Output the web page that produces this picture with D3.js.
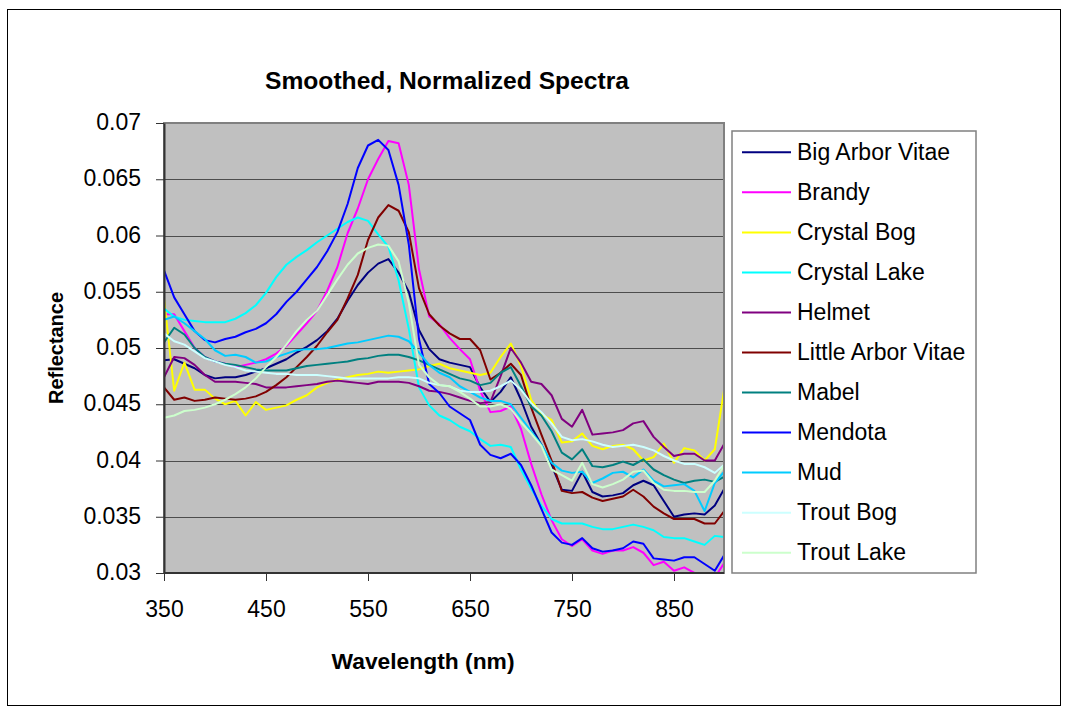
<!DOCTYPE html>
<html>
<head>
<meta charset="utf-8">
<script src="https://cdn.jsdelivr.net/npm/d3@7/dist/d3.min.js"></script>
<style>
  html, body { margin: 0; padding: 0; background: #fff; }
  svg { display: block; font-family: "Liberation Sans", Arial, sans-serif; }
</style>
</head>
<body>
<svg id="chart" width="1070" height="709"></svg>
<script>
// ---- Data ----
const wavelengths = d3.range(350, 901, 10);

const seriesNames = ["Big Arbor Vitae","Brandy","Crystal Bog","Crystal Lake","Helmet","Little Arbor Vitae","Mabel","Mendota","Mud","Trout Bog","Trout Lake"];
const seriesColors = ["#000080","#FF00FF","#FFFF00","#00FFFF","#800080","#800000","#008080","#0000FF","#00CCFF","#CCFFFF","#CCFFCC"];

const bigArborVitae = [0.0489,0.0490,0.0486,0.0482,0.0476,0.0473,0.0474,0.0474,0.0476,0.0479,0.0482,0.0486,0.0490,0.0496,0.0501,0.0507,0.0515,0.0526,0.0542,0.0556,0.0567,0.0575,0.0579,0.0567,0.0550,0.0516,0.0499,0.0490,0.0487,0.0485,0.0483,0.0465,0.0452,0.0461,0.0474,0.0454,0.0430,0.0414,0.0396,0.0374,0.0373,0.0390,0.0372,0.0368,0.0369,0.0371,0.0378,0.0382,0.0378,0.0364,0.0350,0.0352,0.0353,0.0352,0.0360,0.0376];
const brandy = [0.0530,0.0530,0.0515,0.0500,0.0492,0.0488,0.0486,0.0483,0.0485,0.0487,0.0490,0.0495,0.0502,0.0512,0.0522,0.0533,0.0551,0.0572,0.0602,0.0624,0.0650,0.0668,0.0684,0.0682,0.0645,0.0570,0.0528,0.0521,0.0509,0.0499,0.0490,0.0462,0.0443,0.0444,0.0448,0.0428,0.0397,0.0370,0.0347,0.0330,0.0324,0.0330,0.0320,0.0317,0.0320,0.0320,0.0323,0.0318,0.0307,0.0310,0.0302,0.0305,0.0300,0.0297,0.0296,0.0310];
const crystalBog = [0.0544,0.0462,0.0487,0.0463,0.0463,0.0455,0.0450,0.0453,0.0440,0.0452,0.0445,0.0447,0.0449,0.0454,0.0458,0.0465,0.0469,0.0472,0.0474,0.0476,0.0477,0.0479,0.0478,0.0479,0.0480,0.0481,0.0484,0.0486,0.0482,0.0480,0.0478,0.0476,0.0478,0.0492,0.0504,0.0484,0.0454,0.0441,0.0436,0.0416,0.0417,0.0424,0.0413,0.0410,0.0413,0.0414,0.0410,0.0400,0.0403,0.0415,0.0398,0.0411,0.0409,0.0400,0.0410,0.0468];
const crystalLake = [0.0535,0.0528,0.0525,0.0524,0.0523,0.0523,0.0523,0.0526,0.0531,0.0538,0.0549,0.0563,0.0574,0.0581,0.0587,0.0594,0.0600,0.0606,0.0612,0.0616,0.0613,0.0601,0.0590,0.0560,0.0517,0.0465,0.0449,0.0440,0.0436,0.0430,0.0426,0.0419,0.0413,0.0414,0.0412,0.0392,0.0375,0.0360,0.0348,0.0344,0.0344,0.0344,0.0341,0.0339,0.0339,0.0341,0.0343,0.0341,0.0338,0.0332,0.0331,0.0331,0.0328,0.0325,0.0333,0.0332];
const helmet = [0.0474,0.0492,0.0491,0.0485,0.0476,0.0470,0.0470,0.0470,0.0469,0.0468,0.0465,0.0465,0.0465,0.0466,0.0467,0.0468,0.0470,0.0471,0.0470,0.0469,0.0468,0.0470,0.0470,0.0470,0.0469,0.0466,0.0462,0.0461,0.0459,0.0456,0.0453,0.0451,0.0452,0.0475,0.0500,0.0487,0.0470,0.0468,0.0458,0.0437,0.0430,0.0445,0.0423,0.0424,0.0425,0.0427,0.0433,0.0435,0.0421,0.0412,0.0404,0.0406,0.0406,0.0400,0.0400,0.0416];
const littleArborVitae = [0.0465,0.0454,0.0456,0.0453,0.0454,0.0456,0.0455,0.0454,0.0455,0.0457,0.0461,0.0467,0.0474,0.0483,0.0492,0.0502,0.0514,0.0525,0.0544,0.0565,0.0596,0.0616,0.0627,0.0622,0.0603,0.0553,0.0530,0.0520,0.0513,0.0508,0.0508,0.0498,0.0472,0.0478,0.0486,0.0476,0.0447,0.0423,0.0400,0.0373,0.0371,0.0372,0.0367,0.0364,0.0366,0.0368,0.0374,0.0368,0.0359,0.0353,0.0348,0.0348,0.0348,0.0344,0.0344,0.0356];
const mabel = [0.0505,0.0518,0.0512,0.0500,0.0492,0.0488,0.0486,0.0485,0.0483,0.0481,0.0480,0.0480,0.0480,0.0482,0.0484,0.0485,0.0486,0.0487,0.0488,0.0490,0.0491,0.0493,0.0494,0.0494,0.0492,0.0489,0.0485,0.0481,0.0477,0.0473,0.0471,0.0467,0.0469,0.0478,0.0483,0.0466,0.0448,0.0440,0.0426,0.0407,0.0401,0.0410,0.0395,0.0394,0.0396,0.0399,0.0396,0.0401,0.0392,0.0387,0.0383,0.0380,0.0382,0.0383,0.0381,0.0386];
const mendota = [0.0569,0.0545,0.0530,0.0515,0.0507,0.0505,0.0508,0.0510,0.0514,0.0517,0.0522,0.0530,0.0541,0.0550,0.0561,0.0572,0.0586,0.0603,0.0628,0.0660,0.0680,0.0685,0.0676,0.0645,0.0592,0.0508,0.0468,0.0460,0.0448,0.0442,0.0436,0.0414,0.0405,0.0402,0.0406,0.0396,0.0378,0.0357,0.0336,0.0327,0.0325,0.0331,0.0322,0.0319,0.0320,0.0322,0.0328,0.0326,0.0313,0.0312,0.0311,0.0314,0.0314,0.0308,0.0302,0.0317];
const mud = [0.0525,0.0528,0.0522,0.0515,0.0508,0.0498,0.0493,0.0494,0.0492,0.0487,0.0488,0.0492,0.0495,0.0498,0.0499,0.0499,0.0500,0.0502,0.0504,0.0505,0.0507,0.0509,0.0511,0.0510,0.0506,0.0496,0.0485,0.0478,0.0474,0.0466,0.0461,0.0456,0.0453,0.0453,0.0450,0.0438,0.0426,0.0414,0.0398,0.0391,0.0389,0.0390,0.0380,0.0384,0.0389,0.0390,0.0385,0.0392,0.0382,0.0377,0.0378,0.0379,0.0373,0.0355,0.0380,0.0391];
const troutBog = [0.0513,0.0506,0.0503,0.0497,0.0491,0.0488,0.0485,0.0483,0.0480,0.0479,0.0478,0.0477,0.0477,0.0476,0.0476,0.0476,0.0475,0.0474,0.0473,0.0473,0.0473,0.0473,0.0473,0.0474,0.0474,0.0473,0.0469,0.0467,0.0466,0.0462,0.0461,0.0461,0.0462,0.0466,0.0471,0.0463,0.0451,0.0443,0.0433,0.0421,0.0418,0.0419,0.0417,0.0414,0.0412,0.0413,0.0414,0.0412,0.0409,0.0404,0.0400,0.0397,0.0397,0.0394,0.0389,0.0397];
const troutLake = [0.0438,0.0440,0.0444,0.0445,0.0447,0.0450,0.0454,0.0459,0.0465,0.0473,0.0483,0.0492,0.0503,0.0515,0.0525,0.0533,0.0547,0.0561,0.0574,0.0584,0.0589,0.0592,0.0591,0.0577,0.0540,0.0485,0.0474,0.0467,0.0466,0.0461,0.0455,0.0448,0.0448,0.0450,0.0446,0.0434,0.0424,0.0413,0.0392,0.0387,0.0382,0.0398,0.0379,0.0376,0.0379,0.0383,0.0390,0.0391,0.0380,0.0374,0.0373,0.0373,0.0372,0.0372,0.0382,0.0397];

const seriesValues = [bigArborVitae, brandy, crystalBog, crystalLake, helmet, littleArborVitae, mabel, mendota, mud, troutBog, troutLake];

const yTicks = [0.03,0.035,0.04,0.045,0.05,0.055,0.06,0.065,0.07];
const yTickLabels = ["0.03","0.035","0.04","0.045","0.05","0.055","0.06","0.065","0.07"];
const xTicks = [350,450,550,650,750,850];
const xTickLabels = ["350","450","550","650","750","850"];

const titleText = "Smoothed, Normalized Spectra";
const xTitle = "Wavelength (nm)";
const yTitle = "Reflectance";

// ---- Layout ----
const svg = d3.select("#chart");
const plot = { left: 164, top: 123, right: 724, bottom: 573 };

const x = d3.scaleLinear().domain([350, 900]).range([plot.left, plot.left + 5.5 * 102]);
const y = d3.scaleLinear().domain([0.03, 0.07]).range([plot.bottom, plot.top]);

// outer chart border
svg.append("rect").attr("x", 7.5).attr("y", 9.5).attr("width", 1053).attr("height", 696)
  .attr("fill", "#fff").attr("stroke", "#000").attr("stroke-width", 1);

// plot area background
svg.append("rect").attr("x", plot.left).attr("y", plot.top)
  .attr("width", plot.right - plot.left).attr("height", plot.bottom - plot.top)
  .attr("fill", "#C0C0C0");

// gridlines
svg.append("g").selectAll("line").data(yTicks.slice(1, -1)).join("line")
  .attr("x1", plot.left).attr("x2", plot.right)
  .attr("y1", d => Math.round(y(d)) + 0.5).attr("y2", d => Math.round(y(d)) + 0.5)
  .attr("stroke", "#4d4d4d").attr("stroke-width", 1);

// clip
svg.append("defs").append("clipPath").attr("id", "clip").append("rect")
  .attr("x", plot.left).attr("y", plot.top)
  .attr("width", plot.right - plot.left).attr("height", plot.bottom - plot.top);

const line = d3.line().x((d, i) => x(wavelengths[i])).y(d => y(d));
const gLines = svg.append("g").attr("clip-path", "url(#clip)");
seriesValues.forEach((vals, k) => {
  gLines.append("path").datum(vals).attr("d", line)
    .attr("fill", "none").attr("stroke", seriesColors[k]).attr("stroke-width", 2)
    .attr("stroke-linejoin", "round");
});

// plot border (top/right gray)
svg.append("rect").attr("x", plot.left).attr("y", plot.top)
  .attr("width", plot.right - plot.left).attr("height", plot.bottom - plot.top)
  .attr("fill", "none").attr("stroke", "#808080").attr("stroke-width", 2);

// axes
const yAxis = d3.axisLeft(y).tickValues(yTicks).tickSize(8).tickSizeOuter(0).tickPadding(15)
  .tickFormat((d, i) => yTickLabels[i]);
const gy = svg.append("g").attr("transform", `translate(${plot.left},0)`).call(yAxis);
gy.selectAll("text").attr("font-size", 23).attr("fill", "#000").attr("font-family", "Liberation Sans, Arial, sans-serif").attr("dy", "0.29em");
gy.selectAll("line").attr("stroke", "#333").attr("stroke-width", 1);
gy.select(".domain").attr("stroke", "#333").attr("stroke-width", 2);

const xAxis = d3.axisBottom(x).tickValues(xTicks).tickSize(8).tickSizeOuter(0).tickPadding(20)
  .tickFormat((d, i) => xTickLabels[i]);
const gx = svg.append("g").attr("transform", `translate(0,${plot.bottom})`).call(xAxis);
gx.selectAll("text").attr("font-size", 23).attr("fill", "#000").attr("font-family", "Liberation Sans, Arial, sans-serif");
gx.selectAll("line").attr("stroke", "#333").attr("stroke-width", 1);
gx.select(".domain").attr("d", `M${plot.left},0H${plot.right}`).attr("stroke", "#333").attr("stroke-width", 2);

// titles
svg.append("text").attr("x", 447).attr("y", 89).attr("text-anchor", "middle")
  .attr("font-size", 23).attr("font-weight", "bold").attr("textLength", 364).attr("lengthAdjust", "spacingAndGlyphs")
  .text(titleText);
svg.append("text").attr("x", 423).attr("y", 669).attr("text-anchor", "middle")
  .attr("font-size", 22).attr("font-weight", "bold").attr("textLength", 183).attr("lengthAdjust", "spacingAndGlyphs")
  .text(xTitle);
svg.append("text").attr("transform", "translate(62.5,348) rotate(-90)").attr("text-anchor", "middle")
  .attr("font-size", 21).attr("font-weight", "bold").attr("textLength", 112).attr("lengthAdjust", "spacingAndGlyphs")
  .text(yTitle);

// legend
const lg = svg.append("g");
lg.append("rect").attr("x", 732).attr("y", 131).attr("width", 244).attr("height", 442)
  .attr("fill", "#fff").attr("stroke", "#808080").attr("stroke-width", 1.5);
const items = lg.selectAll("g.item").data(seriesNames).join("g").attr("class", "item")
  .attr("transform", (d, i) => `translate(0,${152.3 + i * 40.04})`);
items.append("line").attr("x1", 742).attr("x2", 791).attr("y1", 0).attr("y2", 0)
  .attr("stroke", (d, i) => seriesColors[i]).attr("stroke-width", 2);
items.append("text").attr("x", 797).attr("y", 7.5).attr("font-size", 23).attr("fill", "#000").text(d => d);
</script>
</body>
</html>
